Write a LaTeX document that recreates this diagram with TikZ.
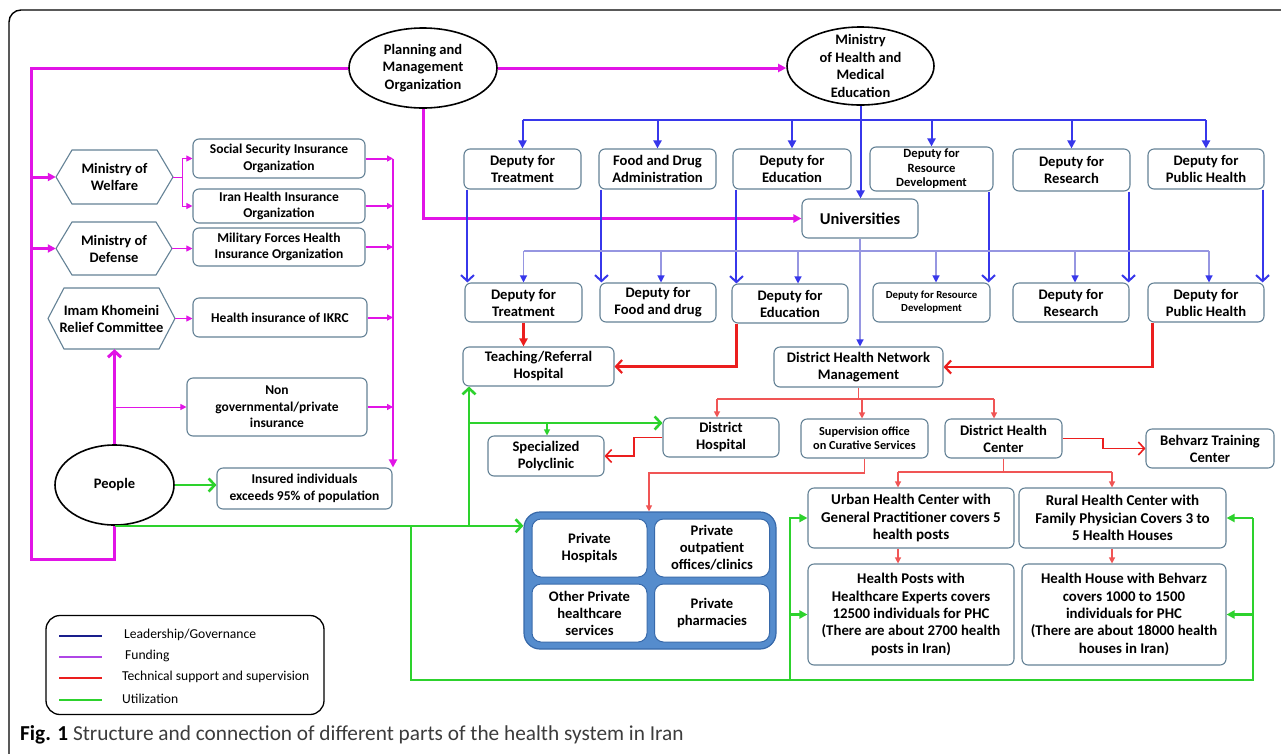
\documentclass[tikz,border=0pt]{standalone}
\usepackage{fontspec}
\setmainfont{Carlito}
\usetikzlibrary{arrows.meta,shapes.geometric,calc}
\definecolor{cMag}{RGB}{225,20,230}
\definecolor{cBlue}{RGB}{55,55,235}
\definecolor{cLav}{RGB}{150,150,225}
\definecolor{cRed}{RGB}{235,30,30}
\definecolor{cRedN}{RGB}{240,85,85}
\definecolor{cGrn}{RGB}{45,210,45}
\definecolor{cBorder}{RGB}{100,130,150}
\definecolor{cPrivF}{RGB}{85,140,205}
\definecolor{cPrivB}{RGB}{55,105,170}
\definecolor{cLegB}{RGB}{25,30,140}
\definecolor{cLegM}{RGB}{175,70,230}
\definecolor{cCap}{RGB}{60,60,60}
\newcommand\BX[7][]{%
 \pgfmathsetmacro\BXw{#5-#3}\pgfmathsetmacro\BXh{#6-#4}%
 \pgfmathsetmacro\BXx{(#3+#5)/2}\pgfmathsetmacro\BXy{(#4+#6)/2}%
 \node[bx,minimum width=\BXw pt,minimum height=\BXh pt,#1] (#2) at (\BXx,\BXy) {#7};}
\newcommand\HX[6]{%
 \pgfmathsetmacro\BXw{#4-#2}\pgfmathsetmacro\BXh{#5-#3}%
 \pgfmathsetmacro\BXx{(#2+#4)/2}\pgfmathsetmacro\BXy{(#3+#5)/2}%
 \draw[hexb] (#2,\BXy) -- (#2+16,#3) -- (#4-16,#3) -- (#4,\BXy) -- (#4-16,#5) -- (#2+16,#5) -- cycle;
 \node[hx,minimum width=\BXw pt,minimum height=\BXh pt] (#1) at (\BXx,\BXy) {#6};}
\begin{document}
\begin{tikzpicture}[x=1pt,y=-1pt,
 ftri/.tip={Triangle[length=8pt,width=8pt]},
 ftris/.tip={Triangle[length=6pt,width=6pt]},
 ltri/.tip={Triangle[length=7pt,width=7pt,color=cBlue]},
 obarb/.tip={Straight Barb[length=6pt,width=13pt]},
 bx/.style={draw=cBorder,line width=1.1pt,rounded corners=6pt,fill=white,align=center,inner sep=0pt,
   font=\bfseries\fontsize{14.6}{17}\selectfont},
 sbx/.style={font=\bfseries\fontsize{13.5}{16.5}\selectfont},
 hx/.style={align=center,inner sep=0pt,font=\bfseries\fontsize{14.5}{17}\selectfont},
 hexb/.style={draw=cBorder,line width=1.1pt,fill=white},
 ell/.style={ellipse,draw=black,line width=1.6pt,fill=white,inner sep=0pt},
 etext/.style={align=center,inner sep=0pt,font=\bfseries\fontsize{14.5}{17.5}\selectfont},
 magk/.style={draw=cMag,line width=3pt},
 magm/.style={draw=cMag,line width=2pt},
 magn/.style={draw=cMag,line width=1pt},
 bluk/.style={draw=cBlue,line width=2pt},
 lav/.style={draw=cLav,line width=1.2pt},
 redk/.style={draw=cRed,line width=2.2pt},
 redm/.style={draw=cRed,line width=1.6pt},
 redn/.style={draw=cRedN,line width=1.1pt},
 grnk/.style={draw=cGrn,line width=2.6pt},
 grnn/.style={draw=cGrn,line width=1.1pt},
 pbox/.style={draw=cPrivB,line width=1pt,rounded corners=9pt,fill=white,align=center,inner sep=0pt,
   font=\bfseries\fontsize{14.6}{17}\selectfont},
 legt/.style={anchor=west,inner sep=0pt,font=\fontsize{13.6}{15}\selectfont}
]
\useasboundingbox (0,0) rectangle (1281,753);
\clip (0,0) rectangle (1281,753);
\fill[white] (0,0) rectangle (1281,753);
\draw[black,line width=1.4pt,rounded corners=12pt] (9,10) rectangle (1300,775);

% ellipses
\node[ell,minimum width=148pt,minimum height=80pt] (pmo) at (423,68) {};
\node[etext] (pmot) at (pmo) {Planning and\\Management\\Organization};
\node[ell,minimum width=147pt,minimum height=78pt] (moh) at (860.5,66) {};
\node[etext] (moht) at (moh) {Ministry\\of Health and\\Medical\\Education};
\node[ell,minimum width=119pt,minimum height=80pt] (people) at (114.5,485) {};
\node[etext] (peoplet) at (people) {People};

% top deputies
\BX{dt1}{464}{149}{581}{189}{Deputy for\\Treatment}
\BX{fda}{599}{149}{716}{189}{Food and Drug\\Administration}
\BX{de1}{733}{149}{851}{189}{Deputy for\\Education}
\BX[font=\bfseries\fontsize{12.6}{14.5}\selectfont]{drd}{870}{147}{993}{191}{Deputy for\\Resource\\Development}
\BX{dr1}{1013}{149}{1130}{191}{Deputy for\\Research}
\BX{dph}{1148}{149}{1264}{189}{Deputy for\\Public Health}
\BX[font=\bfseries\fontsize{16.5}{18}\selectfont]{uni}{802}{199}{918}{238}{Universities}
% second row
\BX{dt2}{465}{283}{582}{322}{Deputy for\\Treatment}
\BX{fd2}{600}{283}{716}{322}{Deputy for\\Food and drug}
\BX{de2}{732}{284}{848}{323}{Deputy for\\Education}
\BX[font=\bfseries\fontsize{10.8}{13}\selectfont]{dr2}{873}{283}{990}{322}{Deputy for Resource\\Development}
\BX{rs2}{1013}{283}{1129}{322}{Deputy for\\Research}
\BX{ph2}{1148}{283}{1264}{322}{Deputy for\\Public Health}
\BX{teach}{463}{347}{614}{386}{Teaching/Referral\\Hospital}
\BX{dhnm}{774}{347}{943}{387}{District Health Network\\Management}
\BX{dh}{663}{418}{779}{457}{District\\Hospital}
\BX{spc}{488}{436}{604}{476}{Specialized\\Polyclinic}
\BX[font=\bfseries\fontsize{12.3}{14}\selectfont]{sup}{801}{419}{928}{458}{Supervision office\\on Curative Services}
\BX{dhc}{945}{419}{1062}{458}{District Health\\Center}
\BX{beh}{1146}{429}{1274}{468}{Behvarz Training\\Center}
\BX[font=\bfseries\fontsize{15}{17.5}\selectfont]{urban}{808}{488}{1014}{548}{Urban Health Center with\\General Practitioner covers 5\\health posts}
\BX[font=\bfseries\fontsize{15}{17.5}\selectfont]{rural}{1019}{488}{1226}{548}{Rural Health Center with\\Family Physician Covers 3 to\\5 Health Houses}
\BX[font=\bfseries\fontsize{14.8}{17.3}\selectfont]{posts}{808}{564}{1014}{665}{Health Posts with\\Healthcare Experts covers\\12500 individuals for PHC\\(There are about 2700 health\\posts in Iran)}
\BX[font=\bfseries\fontsize{14.8}{17.3}\selectfont]{house}{1022}{564}{1226}{665}{Health House with Behvarz\\covers 1000 to 1500\\individuals for PHC\\(There are about 18000 health\\houses in Iran)}
% left
\HX{wel}{56}{150}{173}{204}{Ministry of\\Welfare}
\HX{def}{56}{222}{172}{275}{Ministry of\\Defense}
\HX{ikrc}{48}{288}{175}{349}{Imam Khomeini\\Relief Committee}
\BX[sbx]{ssio}{193}{139}{365}{178}{Social Security Insurance\\Organization}
\BX[sbx]{ihio}{193}{189}{365}{223}{Iran Health Insurance\\Organization}
\BX[sbx]{mfhio}{193}{228}{365}{266}{Military Forces Health\\Insurance Organization}
\BX[sbx]{hikrc}{193}{298}{367}{337}{Health insurance of IKRC}
\BX[sbx]{ngo}{187}{378}{367}{436}{Non\\governmental/private\\insurance}
\BX[sbx]{ins}{217}{468}{392}{509}{Insured individuals\\exceeds 95\% of population}

% private block
\node[draw=cPrivB,fill=cPrivF,line width=1.2pt,rounded corners=16pt,minimum width=252pt,minimum height=137pt,inner sep=0pt] (priv) at (650,580.5) {};
\node[pbox,minimum width=115pt,minimum height=58pt] (phos) at (589.5,548) {Private\\Hospitals};
\node[pbox,minimum width=115pt,minimum height=58pt] (pout) at (712,548) {Private\\outpatient\\offices/clinics};
\node[pbox,minimum width=115pt,minimum height=58pt] (poth) at (589.5,613) {Other Private\\healthcare\\services};
\node[pbox,minimum width=115pt,minimum height=58pt] (pph) at (712,613) {Private\\pharmacies};

% legend
\node[draw=black,line width=1.3pt,rounded corners=14pt,minimum width=278pt,minimum height=99pt] (leg) at (185,665) {};
\draw[cLegB,line width=2.6pt] (59,636) -- (102,636);
\draw[cLegM,line width=2pt] (59,657) -- (102,657);
\draw[cRed,line width=2pt] (59,678) -- (102,678);
\draw[cGrn,line width=2pt] (59,700) -- (102,700);
\node[legt] (leg1) at (124,635) {Leadership/Governance};
\node[legt] (leg2) at (125,656) {Funding};
\node[legt] (leg3) at (122,677) {Technical support and supervision};
\node[legt] (leg4) at (122,699) {Utilization};
\node[anchor=west,inner sep=0pt,text=cCap,font=\fontsize{21.3}{23}\selectfont] (cap) at (20,735) {\textcolor{black}{\textbf{Fig. 1}} Structure and connection of different parts of the health system in Iran};

% ---- magenta (funding)
\coordinate (mc1) at (31,68);
\coordinate (mc2) at (31,559);
\coordinate (mc3) at (114.5,559);
\draw[magk] (people.south) -- (mc3) -- (mc2) -- (mc1) -- (pmo.west);
\draw[magk,-ftri] (wel.west -| mc1) -- (wel.west);
\draw[magk,-ftri] (def.west -| mc1) -- (def.west);
\draw[magk,-ftri] (pmo.east) -- (pmo.east -| moh.west);
\draw[magk,-ftri] (pmo.south) |- (uni.west);
\draw[magk,-obarb] (people.north) -- (people.north |- ikrc.south);
\draw[magn,-ftris] (people.north |- ngo.west) -- (ngo.west);
\coordinate (wb) at (182,177);
\draw[magn] (wel.east) -- (wb);
\draw[magn,-ftris] (wb) |- (ssio.west);
\draw[magn,-ftris] (wb) |- (ihio.west);
\draw[magn,-ftris] (def.east) -- (def.east -| mfhio.west);
\draw[magn,-ftris] (ikrc.east) -- (ikrc.east -| hikrc.west);
\coordinate (col) at (393,158.5);
\draw[magm,-ftri] (col) -- (col |- ins.north);
\foreach \n in {ssio,ihio,mfhio,hikrc,ngo} \draw[magm,-ftris] (\n.east) -- (\n.east -| col);

% ---- blue (governance)
\draw[bluk,-ftri] (moh.south) -- (moh.south |- uni.north);
\coordinate (bl) at (522.5,120);
\coordinate (br) at (1206,120);
\draw[bluk] (bl) -- (br);
\foreach \n in {dt1,fda,de1,drd,dr1,dph} \draw[bluk,-ftri] (\n.north |- bl) -- (\n.north);
\coordinate (lbA) at ([xshift=4pt]dt1.south west);
\coordinate (lbB) at ([xshift=3pt]fda.south west);
\coordinate (lbC) at ([xshift=4pt]de1.south west);
\coordinate (lbD) at ([xshift=-5pt]drd.south east);
\coordinate (lbE) at ([xshift=-2pt]dr1.south east);
\coordinate (lbF) at ([xshift=-2pt]dph.south east);
\draw[bluk,-obarb] (lbA) -- (lbA |- dt2.north);
\draw[bluk,-obarb] (lbB) -- (lbB |- fd2.north);
\draw[bluk,-obarb] (lbC) -- (lbC |- de2.north);
\draw[bluk,-obarb] (lbD) -- (lbD |- dr2.north);
\draw[bluk,-obarb] (lbE) -- (lbE |- rs2.north);
\draw[bluk,-obarb] (lbF) -- (lbF |- ph2.north);
\coordinate (lv0) at (523.5,251);
\coordinate (lv1) at (1209,251);
\draw[lav] (lv0) -- (lv1);
\foreach \xx/\n in {523.5/dt2,661/fd2,798/de2,936/dr2,1075/rs2,1209/ph2}{
  \coordinate (lt) at (\xx,251);
  \draw[lav,-ltri] (lt) -- (lt |- \n.north);}
\draw[lav,-ltri] (uni.south) -- (uni.south |- dhnm.north);

% ---- red (technical support)
\draw[redk,-ftri] (dt2.south) -- (dt2.south |- teach.north);
\coordinate (rA) at ([xshift=5pt]de2.south west);
\draw[redk,-obarb] (rA) |- (teach.east);
\coordinate (rB) at ([xshift=5pt]ph2.south west);
\draw[redk,-obarb] (rB) |- (dhnm.east);
\coordinate (rC) at (634,437.5);
\draw[redm,-obarb] (dh.west) -- (rC) |- (spc.east);
\coordinate (rD) at (1103,438.5);
\draw[redm,-obarb] (dhc.east) -- (rD) |- (beh.west);
\coordinate (rt1) at (717,399);
\coordinate (rt2) at (862,399);
\coordinate (rt3) at (994,399);
\draw[redn] (dhnm.south) -- (dhnm.south |- rt1);
\draw[redn] (rt1) -- (rt3);
\draw[redn,-ftris] (rt1) -- (rt1 |- dh.north);
\draw[redn,-ftris] (rt2) -- (rt2 |- sup.north);
\draw[redn,-ftris] (rt3) -- (rt3 |- dhc.north);
\coordinate (rs1) at (649,473);
\draw[redn,-ftris] (sup.south) |- (rs1) -- (rs1 |- priv.north);
\coordinate (rdA) at (898,472);
\coordinate (rdB) at (1112,472);
\draw[redn] (dhc.south) -- (dhc.south |- rdA);
\draw[redn] (rdA) -- (rdB);
\draw[redn,-ftris] (rdA) -- (rdA |- urban.north);
\draw[redn,-ftris] (rdB) -- (rdB |- rural.north);
\draw[redn,-ftris] (rdA |- urban.south) -- (rdA |- posts.north);
\draw[redn,-ftris] (rdB |- rural.south) -- (rdB |- house.north);

% ---- green (utilization)
\draw[grnk,-obarb] (people.east) -- (people.east -| ins.west);
\draw[grnk,-obarb] (people.south) -- (people.south -| priv.west);
\coordinate (gT) at (469,525);
\draw[grnk,-obarb] (gT) -- (gT |- teach.south);
\coordinate (gD) at (469,423);
\draw[grnk,-obarb] (gD) -- (gD -| dh.west);
\coordinate (gP) at (547,423);
\draw[grnn,-ftris] (gP) -- (gP |- spc.north);
\coordinate (gB1) at (411,525);
\coordinate (gB2) at (411,680);
\coordinate (gB3) at (1253,680);
\coordinate (gL) at (790,680);
\draw[grnk] (gB1) -- (gB2) -- (gB3) -- (gB3 |- rural.east);
\draw[grnk,-ftri] (gB3 |- rural.east) -- (rural.east);
\draw[grnk,-ftri] (gB3 |- house.east) -- (house.east);
\draw[grnk,-ftri] (gL) |- (urban.west);
\draw[grnk,-ftri] (gL |- posts.west) -- (posts.west);
\end{tikzpicture}
\end{document}
